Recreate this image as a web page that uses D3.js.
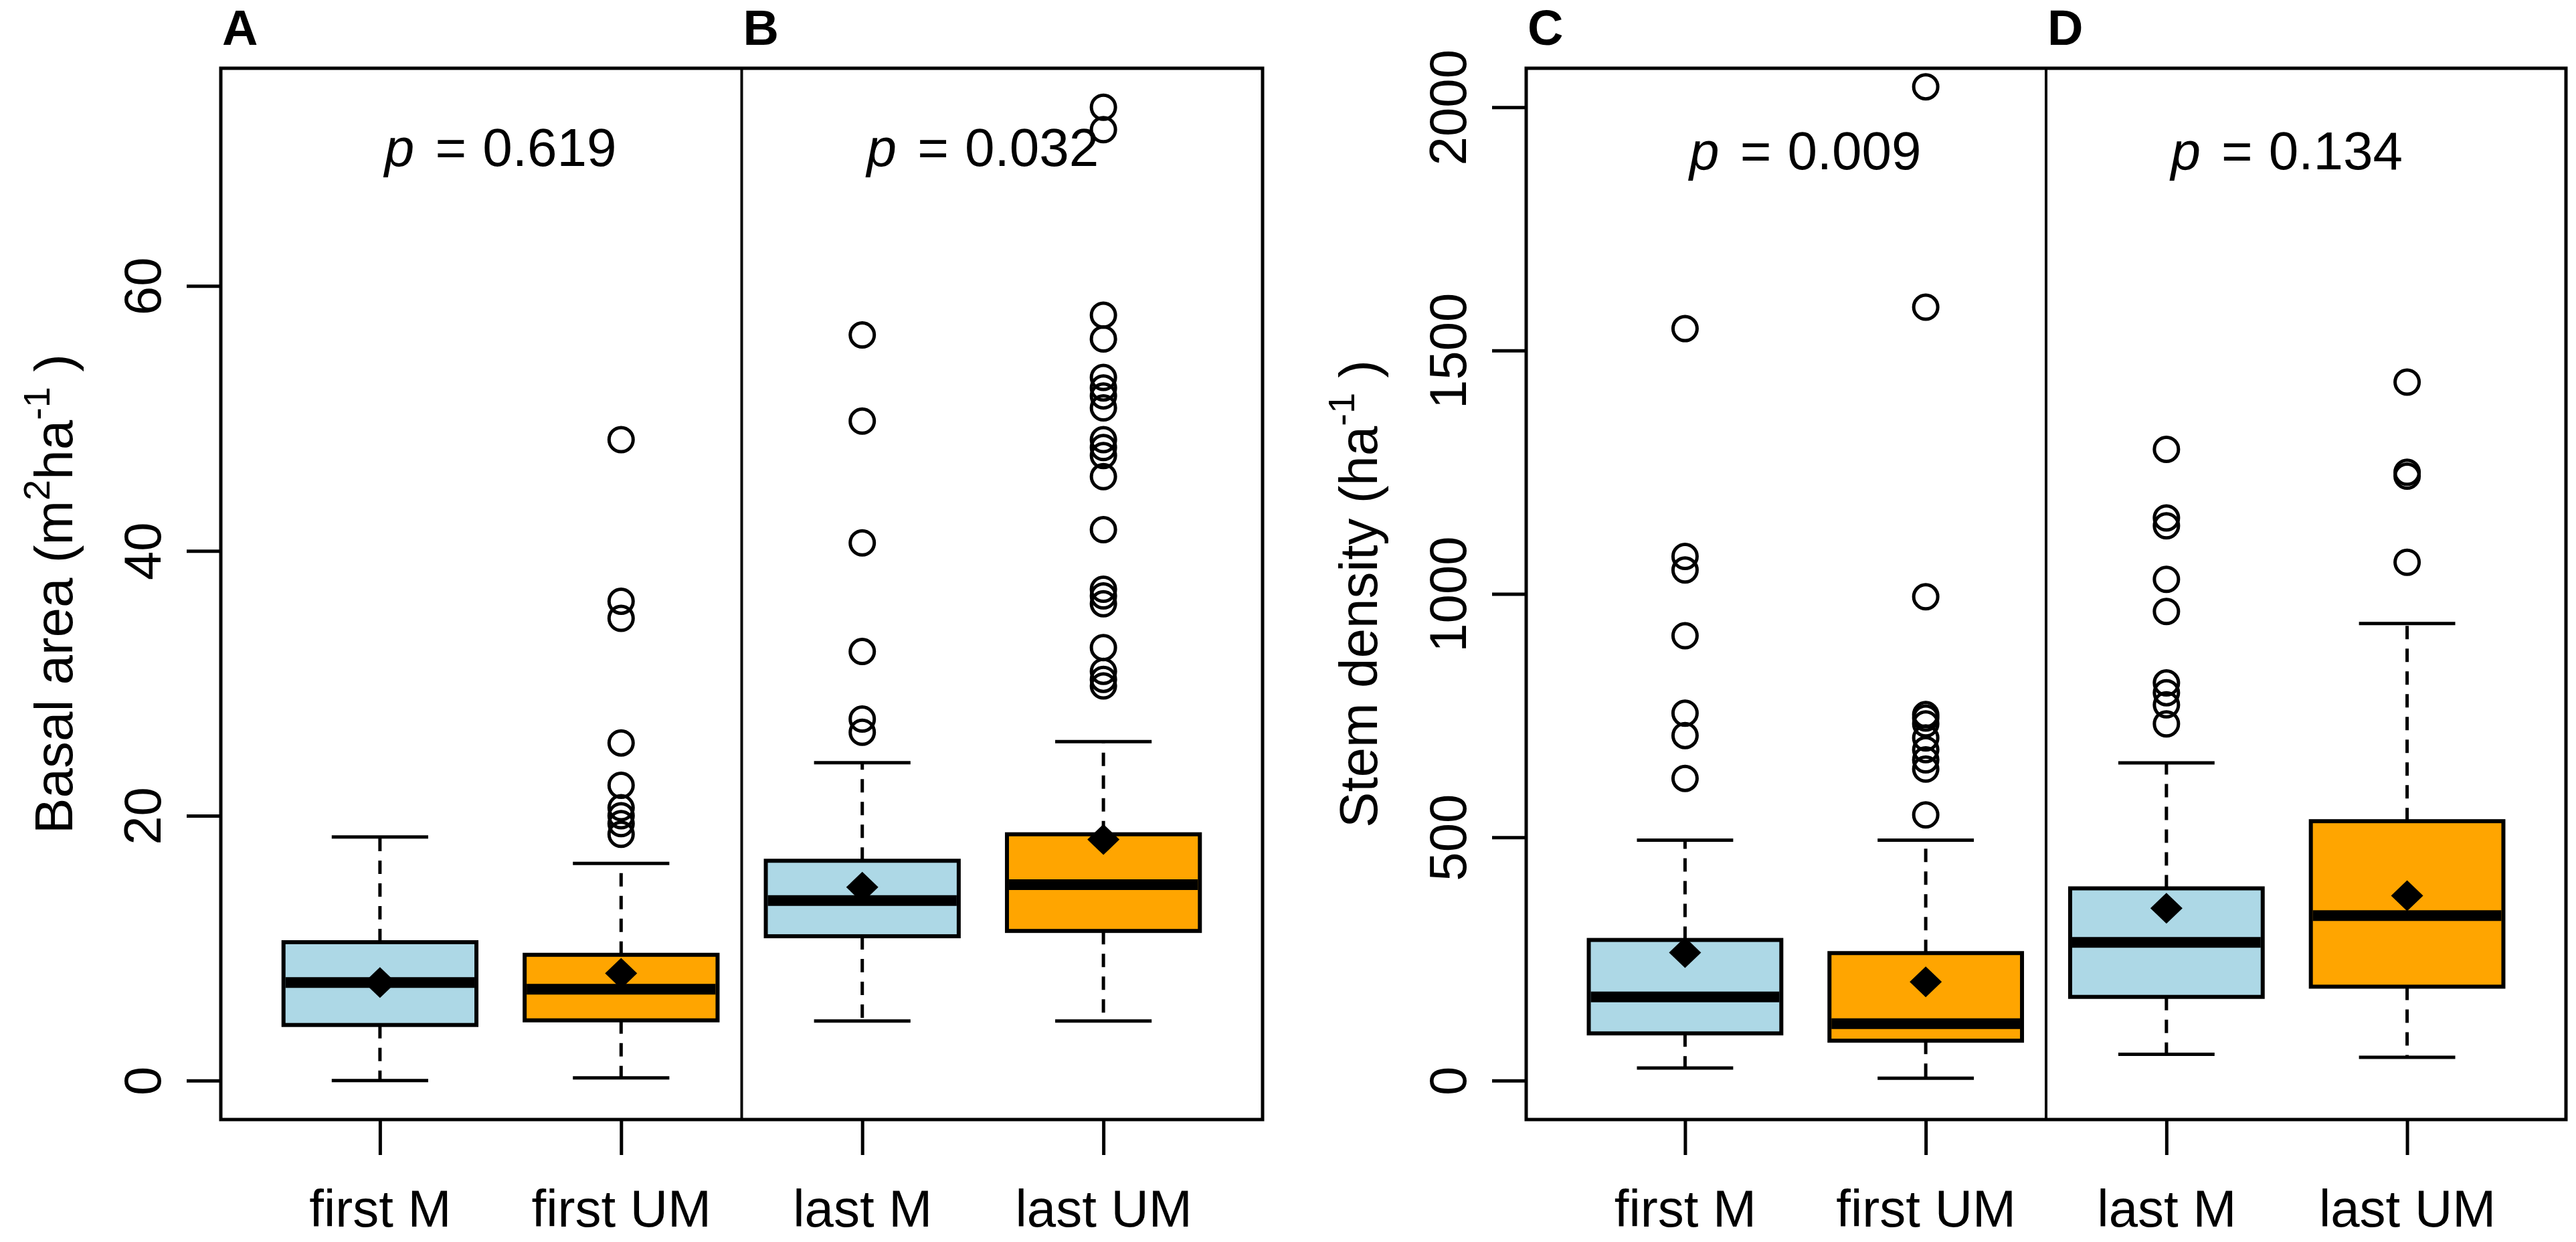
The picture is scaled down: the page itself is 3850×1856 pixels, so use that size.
<!DOCTYPE html>
<html>
<head>
<meta charset="utf-8">
<script src="https://cdn.jsdelivr.net/npm/d3@7"></script>
<style>
  html, body { margin: 0; padding: 0; background: #fff; }
  svg text { font-family: "Liberation Sans", Arial, Helvetica, sans-serif; }
</style>
</head>
<body>
<svg id="chart" width="3850" height="1856"></svg>
<script>
// ---------------- DATA ----------------
const categories = ["first M", "first UM", "last M", "last UM"];
const panelLetters = ["A", "B", "C", "D"];

// Basal area (m2 ha-1)
const basalLow    = [0.0, 0.2, 4.5, 4.5];
const basalQ1     = [4.2, 4.55, 10.9, 11.3];
const basalMedian = [7.4, 6.9, 13.6, 14.8];
const basalQ3     = [10.45, 9.5, 16.6, 18.6];
const basalHigh   = [18.4, 16.4, 24.0, 25.6];
const basalMean   = [7.4, 8.1, 14.6, 18.2];
const basalOutliers = [
  [],
  [48.4, 36.2, 34.9, 25.5, 22.3, 20.6, 20.0, 19.4, 18.6],
  [56.3, 49.8, 40.6, 32.4, 27.3, 26.3],
  [73.5, 71.8, 57.8, 56.0, 53.1, 52.3, 51.7, 50.8, 48.4, 47.8, 47.2, 45.6, 41.6, 37.1, 36.6, 36.0, 32.7, 30.9, 30.3, 29.8]
];
const basalTicks = [0, 20, 40, 60];
const basalLim = [0, 73.5];
const basalP = ["0.619", "0.032"];
const basalPY = 70.5;

// Stem density (ha-1)
const stemLow    = [26, 5, 54, 48];
const stemQ1     = [97, 82, 172, 193];
const stemMedian = [172, 117, 284, 339];
const stemQ3     = [289, 262, 395, 533];
const stemHigh   = [494, 494, 653, 939];
const stemMean   = [263, 203, 354, 380];
const stemOutliers = [
  [1545, 1077, 1049, 914, 755, 709, 621],
  [2042, 1589, 994, 752, 745, 733, 704, 680, 659, 640, 546],
  [1297, 1156, 1140, 1030, 964, 817, 797, 772, 733],
  [1435, 1250, 1242, 1065]
];
const stemTicks = [0, 500, 1000, 1500, 2000];
const stemLim = [0, 2000];
const stemP = ["0.009", "0.134"];
const stemPY = 1912;

// ---------------- DRAWING ----------------
const boxFill = ["#ADD8E6", "#FFA500", "#ADD8E6", "#FFA500"];
const svg = d3.select("#chart");
svg.append("rect").attr("width", 3850).attr("height", 1856).attr("fill", "#fff");

const FONT = 78;
const plotTop = 102, plotBottom = 1673;

const panels = [
  { left: 330, right: 1887, low: basalLow, q1: basalQ1, med: basalMedian, q3: basalQ3, high: basalHigh,
    mean: basalMean, out: basalOutliers, ticks: basalTicks, lim: basalLim, p: basalP, pY: basalPY,
    letters: [panelLetters[0], panelLetters[1]], titleX: 108,
    title: [["Basal area (m", 0], ["2", 1], ["ha", 0], ["-1", 1], [" )", 0]] },
  { left: 2281, right: 3835, low: stemLow, q1: stemQ1, med: stemMedian, q3: stemQ3, high: stemHigh,
    mean: stemMean, out: stemOutliers, ticks: stemTicks, lim: stemLim, p: stemP, pY: stemPY,
    letters: [panelLetters[2], panelLetters[3]], titleX: 2058,
    title: [["Stem density (ha", 0], ["-1", 1], [" )", 0]] }
];

panels.forEach(P => {
  const r = P.lim[1] - P.lim[0];
  const x = d3.scaleLinear().domain([0.5 - 0.16, 4.5 + 0.16]).range([P.left, P.right]);
  const y = d3.scaleLinear().domain([P.lim[0] - 0.04 * r, P.lim[1] + 0.04 * r]).range([plotBottom, plotTop]);
  const g = svg.append("g");

  // y axis
  const ya = g.append("g").attr("transform", `translate(${P.left},0)`)
    .call(d3.axisLeft(y).tickValues(P.ticks).tickSize(51).tickFormat(d3.format("d")));
  ya.select(".domain").remove();
  ya.selectAll(".tick line").attr("stroke", "#000").attr("stroke-width", 5);
  ya.selectAll(".tick text")
    .attr("x", null).attr("dy", null)
    .attr("transform", "translate(-90,0) rotate(-90)")
    .attr("text-anchor", "middle")
    .attr("fill", "#000")
    .style("font-size", FONT + "px")
    .style("font-family", '"Liberation Sans", Arial, sans-serif');

  // x axis
  const xa = g.append("g").attr("transform", `translate(0,${plotBottom})`)
    .call(d3.axisBottom(x).tickValues([1, 2, 3, 4]).tickSize(53).tickFormat(i => categories[i - 1]));
  xa.select(".domain").remove();
  xa.selectAll(".tick line").attr("stroke", "#000").attr("stroke-width", 5);
  xa.selectAll(".tick text")
    .attr("y", 160).attr("dy", null)
    .attr("fill", "#000")
    .style("font-size", FONT + "px")
    .style("font-family", '"Liberation Sans", Arial, sans-serif');

  // boxes
  const bw = 0.4, sw = 0.2;
  const idx = d3.range(4);
  // whiskers
  g.append("g").selectAll("line").data(idx).join("line")
    .attr("x1", i => x(i + 1)).attr("x2", i => x(i + 1))
    .attr("y1", i => y(P.q3[i])).attr("y2", i => y(P.high[i]))
    .attr("stroke", "#000").attr("stroke-width", 5).attr("stroke-dasharray", "20,14");
  g.append("g").selectAll("line").data(idx).join("line")
    .attr("x1", i => x(i + 1)).attr("x2", i => x(i + 1))
    .attr("y1", i => y(P.q1[i])).attr("y2", i => y(P.low[i]))
    .attr("stroke", "#000").attr("stroke-width", 5).attr("stroke-dasharray", "20,14");
  // staples
  [P.high, P.low].forEach(arr => {
    g.append("g").selectAll("line").data(idx).join("line")
      .attr("x1", i => x(i + 1 - sw)).attr("x2", i => x(i + 1 + sw))
      .attr("y1", i => y(arr[i])).attr("y2", i => y(arr[i]))
      .attr("stroke", "#000").attr("stroke-width", 5);
  });
  // box
  g.append("g").selectAll("rect").data(idx).join("rect")
    .attr("x", i => x(i + 1 - bw)).attr("width", i => x(i + 1 + bw) - x(i + 1 - bw))
    .attr("y", i => y(P.q3[i])).attr("height", i => y(P.q1[i]) - y(P.q3[i]))
    .attr("fill", i => boxFill[i]).attr("stroke", "#000").attr("stroke-width", 6);
  // median
  g.append("g").selectAll("line").data(idx).join("line")
    .attr("x1", i => x(i + 1 - bw) + 3).attr("x2", i => x(i + 1 + bw) - 3)
    .attr("y1", i => y(P.med[i])).attr("y2", i => y(P.med[i]))
    .attr("stroke", "#000").attr("stroke-width", 16);
  // outliers
  const outs = [];
  P.out.forEach((arr, i) => arr.forEach(v => outs.push({ i, v })));
  g.append("g").selectAll("circle").data(outs).join("circle")
    .attr("cx", d => x(d.i + 1)).attr("cy", d => y(d.v)).attr("r", 18)
    .attr("fill", "none").attr("stroke", "#000").attr("stroke-width", 5);
  // means (filled diamond)
  const dmx = 24, dmy = 23;
  g.append("g").selectAll("path").data(idx).join("path")
    .attr("d", i => {
      const cx = x(i + 1), cy = y(P.mean[i]);
      return `M${cx},${cy - dmy}L${cx + dmx},${cy}L${cx},${cy + dmy}L${cx - dmx},${cy}Z`;
    })
    .attr("fill", "#000");

  // frame + divider
  g.append("rect").attr("x", P.left).attr("y", plotTop)
    .attr("width", P.right - P.left).attr("height", plotBottom - plotTop)
    .attr("fill", "none").attr("stroke", "#000").attr("stroke-width", 5);
  g.append("line").attr("x1", x(2.5)).attr("x2", x(2.5)).attr("y1", plotTop).attr("y2", plotBottom)
    .attr("stroke", "#000").attr("stroke-width", 4);

  // p values (italic p, wide math spacing around "=")
  [1.5, 3.5].forEach((xc, k) => {
    const t = g.append("text").attr("x", x(xc)).attr("y", y(P.pY) + 0.36 * 80)
      .attr("text-anchor", "middle").style("font-size", "80px").attr("fill", "#000");
    t.append("tspan").style("font-style", "italic").text("p");
    t.append("tspan").attr("dx", "0.39em").text("=");
    t.append("tspan").attr("dx", "0.3em").text(P.p[k]);
  });

  // panel letters
  [P.left, x(2.5)].forEach((lx, k) => {
    g.append("text").attr("x", lx + 2).attr("y", 67)
      .style("font-size", "74px").style("font-weight", "bold").attr("fill", "#000")
      .text(P.letters[k]);
  });

  // y title with superscripts
  const ty = g.append("text")
    .attr("transform", `translate(${P.titleX},${(plotTop + plotBottom) / 2}) rotate(-90)`)
    .attr("text-anchor", "middle").style("font-size", "80px").attr("fill", "#000");
  P.title.forEach(([s, sup], j) => {
    const prevSup = j > 0 && P.title[j - 1][1];
    let dy = 0;
    if (sup && !prevSup) dy = -34;
    else if (!sup && prevSup) dy = 34;
    const ts = ty.append("tspan").attr("dy", dy).text(s);
    if (sup) ts.style("font-size", "56px");
  });
});
</script>
</body>
</html>
